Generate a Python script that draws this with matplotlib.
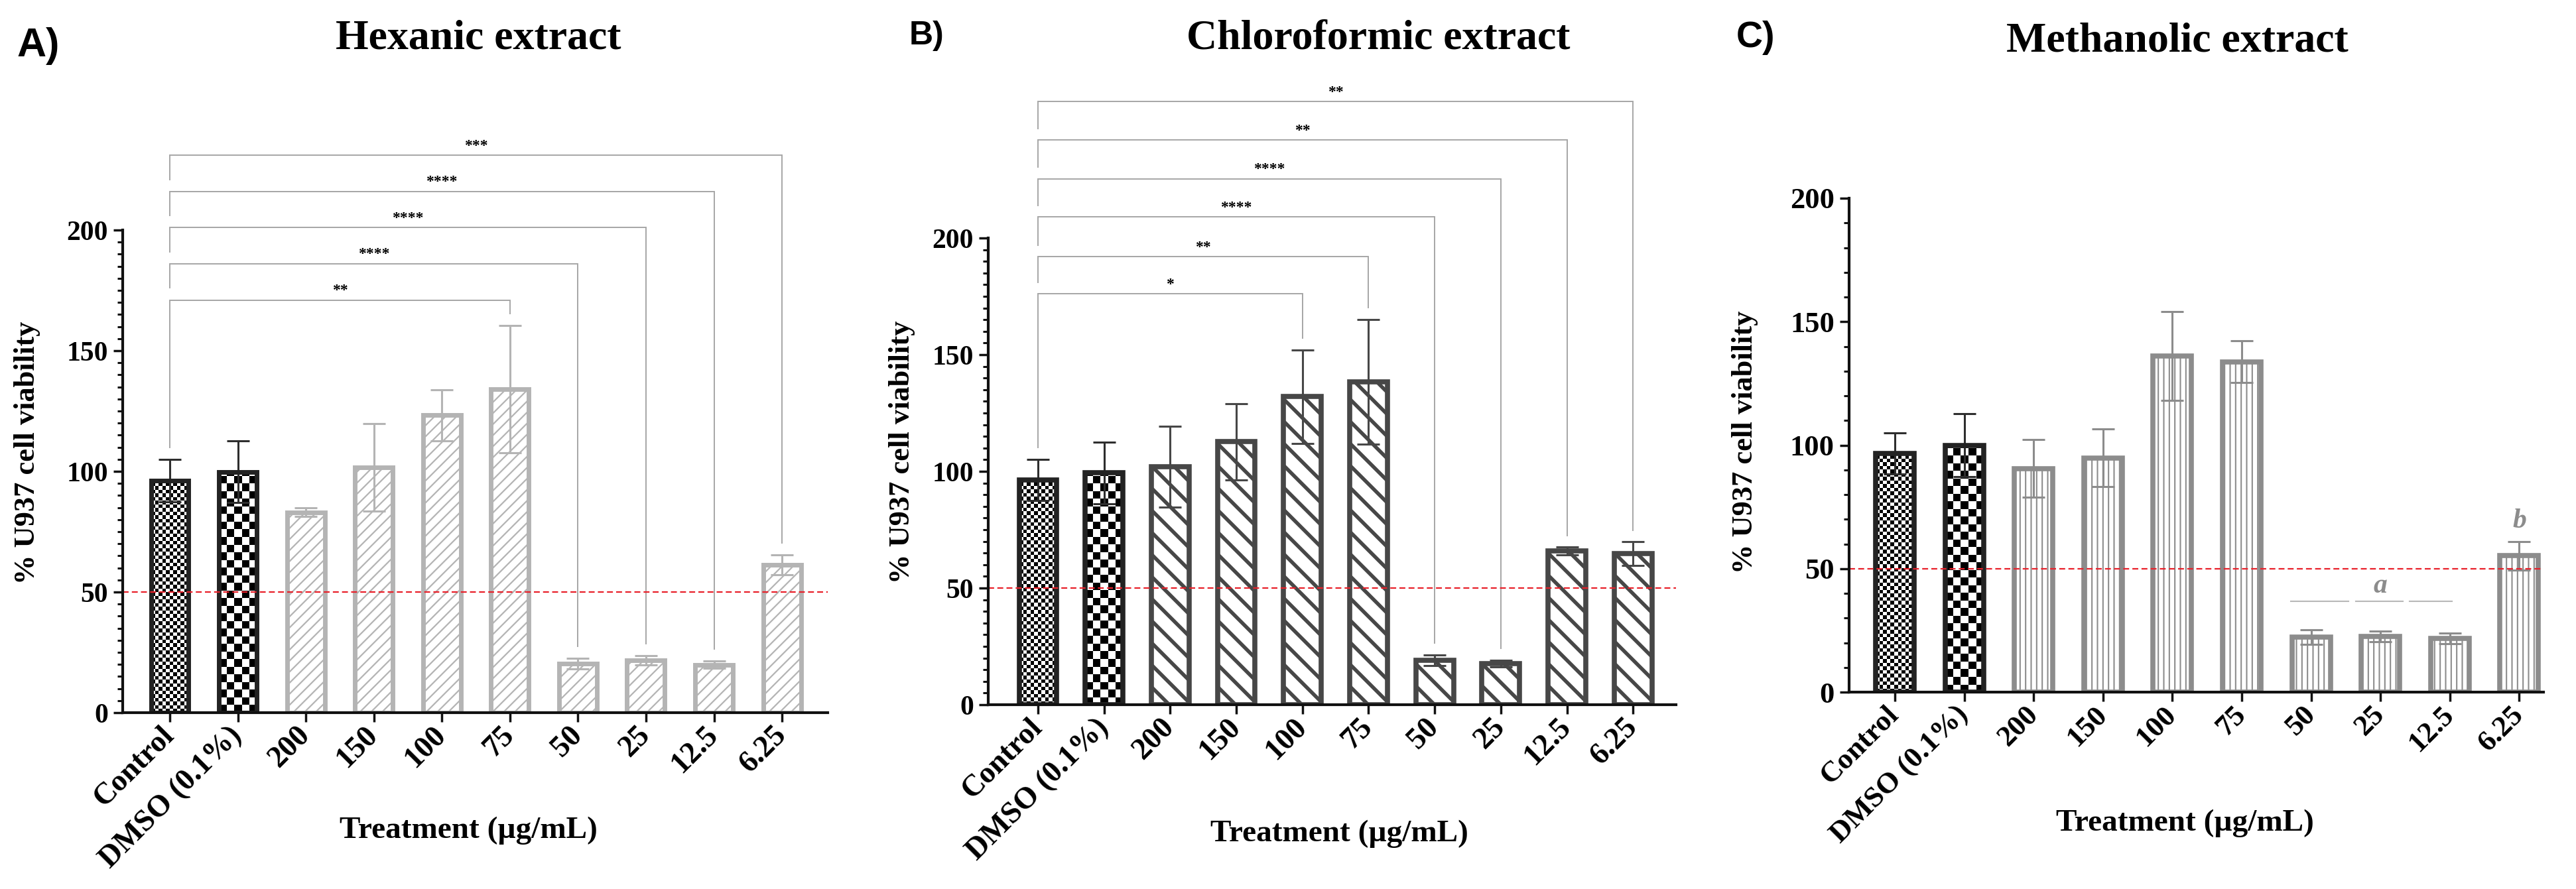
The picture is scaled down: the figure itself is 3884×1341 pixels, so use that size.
import numpy as np
import matplotlib
matplotlib.use("Agg")
import matplotlib.pyplot as plt
from matplotlib.ticker import MultipleLocator

# ---------------- data ----------------
categories = ["Control", "DMSO (0.1%)", "200", "150", "100", "75", "50", "25", "12.5", "6.25"]

hex_mean = [96.2, 99.8, 83.1, 101.6, 123.3, 134.0, 20.3, 21.7, 19.8, 61.3]
hex_err = [8.8, 12.8, 1.8, 18.2, 10.6, 26.4, 2.1, 1.9, 1.5, 4.1]

chl_mean = [96.3, 99.4, 102.0, 112.7, 132.0, 138.4, 19.1, 17.6, 65.8, 64.8]
chl_err = [8.9, 13.2, 17.3, 16.4, 20.0, 26.7, 2.2, 1.5, 1.7, 5.0]

met_mean = [96.6, 100.0, 90.6, 94.8, 136.1, 133.8, 22.3, 22.5, 21.8, 55.2]
met_err = [8.4, 12.7, 11.7, 11.7, 17.9, 8.5, 3.0, 2.1, 2.1, 5.8]

hex_targets = [5, 6, 7, 8, 9]
hex_levels = [171, 186, 201, 216, 231]
hex_stars = ["**", "****", "****", "****", "***"]

chl_targets = [4, 5, 6, 7, 8, 9]
chl_levels = [176, 192, 209, 225.4, 242, 258.4]
chl_stars = ["*", "**", "****", "****", "**", "**"]

met_a_segments = [(5.71, 6.54), (6.64, 7.32), (7.42, 8.03)]
met_a_level = 36.8

titles = ["Hexanic extract", "Chloroformic extract", "Methanolic extract"]
panel_letters = ["A)", "B)", "C)"]
ylabel = "% U937 cell viability"
xlabel = "Treatment (\u00b5g/mL)"

# ---------------- figure ----------------
W, H = 3884, 1341
DPI = 100
fig = plt.figure(figsize=(W / DPI, H / DPI), dpi=DPI)
SERIF = ["Liberation Serif", "DejaVu Serif"]
SANS = ["Liberation Sans", "DejaVu Sans"]


def fx(px):
    return px / W


def fy(py):
    return 1 - py / H


def add_axes_px(left, right, y0, y200):
    return fig.add_axes([fx(left), fy(y0), (right - left) / W, (y0 - y200) / H])


def checker(ax, bar, sq):
    x0l, x1l = ax.get_xlim()
    y0l, y1l = ax.get_ylim()
    ppx = ax.bbox.width / (x1l - x0l)
    ppy = ax.bbox.height / (y1l - y0l)
    bx, bw, bh = bar.get_x(), bar.get_width(), bar.get_height()
    nc = int(np.ceil(bw * ppx / sq)) + 1
    nr = int(np.ceil(bh * ppy / sq)) + 1
    arr = np.add.outer(np.arange(nr), np.arange(nc)) % 2
    ext = [bx, bx + nc * sq / ppx, 0, nr * sq / ppy]
    im = ax.imshow(arr, cmap="gray", vmin=0, vmax=1, extent=ext, origin="lower",
                   interpolation="nearest", aspect="auto", zorder=2)
    im.set_clip_path(bar)
    ax.set_xlim(x0l, x1l)
    ax.set_ylim(y0l, y1l)


def draw_panel(ax, mean, err, xlim, ec, err_col, hatch, hatch_lw, width, edge_lw,
               minor, ytick_fs, xtick_fs):
    ax.set_xlim(*xlim)
    ax.set_ylim(0, 200)
    x = np.arange(len(categories))
    ctrl_ec = "#232323"
    bars = []
    for i in x:
        if i < 2:
            b = ax.bar(i, mean[i], width, facecolor="none", edgecolor=ctrl_ec,
                       linewidth=edge_lw, zorder=3)[0]
        else:
            b = ax.bar(i, mean[i], width, facecolor="none", edgecolor=ec,
                       linewidth=edge_lw, hatch=hatch, zorder=3)[0]
            if hasattr(b, "set_hatch_linewidth"):
                b.set_hatch_linewidth(hatch_lw)
        bars.append(b)
    checker(ax, bars[0], 5.5)
    checker(ax, bars[1], 11.5)
    for i in x:
        col = "#2e2e2e" if i < 2 else err_col
        ax.errorbar(i, mean[i], yerr=err[i], fmt="none", ecolor=col, elinewidth=2.2,
                    capsize=12.5, capthick=2.2, zorder=2.5)
    ax.axhline(50, color="#e8202a", ls=(0, (4, 2.2)), lw=1.6, zorder=6)

    for s in ["top", "right"]:
        ax.spines[s].set_visible(False)
    for s in ["left", "bottom"]:
        ax.spines[s].set_linewidth(3)
        ax.spines[s].set_color("#111111")
        ax.spines[s].set_zorder(7)
    ax.set_yticks([0, 50, 100, 150, 200])
    ax.yaxis.set_minor_locator(MultipleLocator(minor))
    ax.tick_params(axis="y", which="major", length=10, width=2.5, pad=6,
                   labelsize=ytick_fs, color="#111111")
    ax.tick_params(axis="y", which="minor", length=6, width=2.2, color="#111111")
    ax.tick_params(axis="x", which="major", length=10, width=2.5, pad=10,
                   color="#111111")
    ax.set_xticks(x)
    ax.set_xticklabels(categories, rotation=45, ha="right", va="center",
                       rotation_mode="anchor", fontsize=xtick_fs, fontweight="bold",
                       family=SERIF)
    for lab in ax.get_yticklabels():
        lab.set_fontweight("bold")
        lab.set_family(SERIF)
    return bars


def brackets(ax, mean, err, targets, levels, stars):
    col = "#a6a6a6"
    for k, (t, lv, st) in enumerate(zip(targets, levels, stars)):
        low_left = (levels[k - 1] + 5) if k > 0 else (mean[0] + err[0] + 5)
        low_right = mean[t] + err[t] + 5
        ax.plot([0, 0, t, t], [low_left, lv, lv, low_right], color=col, lw=1.4,
                clip_on=False, zorder=4, solid_joinstyle="miter")
        ax.text(t / 2, lv + 1.0, st, ha="center", va="bottom", fontsize=17,
                fontweight="bold", family=SERIF, clip_on=False)


# Panel A
axA = add_axes_px(185, 1248, 1075, 347)
draw_panel(axA, hex_mean, hex_err, (-0.692, 9.672), "#b4b4b4", "#b4b4b4", "//", 1.6,
           0.555, 5.0, 5, 30, 33)
brackets(axA, hex_mean, hex_err, hex_targets, hex_levels, hex_stars)

# Panel B
axB = add_axes_px(1490, 2527, 1063, 359)
draw_panel(axB, chl_mean, chl_err, (-0.752, 9.65), "#474747", "#474747", "\\", 4.0,
           0.57, 5.5, 5, 30, 33)
brackets(axB, chl_mean, chl_err, chl_targets, chl_levels, chl_stars)

# Panel C
axC = add_axes_px(2788, 3835, 1044, 299)
draw_panel(axC, met_mean, met_err, (-0.66, 9.35), "#8c8c8c", "#8c8c8c", "||", 1.5,
           0.555, 5.5, 10, 32, 32)
for a0, a1 in met_a_segments:
    axC.plot([a0, a1], [met_a_level, met_a_level], color="#b8b8b8", lw=1.5, zorder=4)
axC.text(7, 40.2, "a", ha="center", va="baseline", fontsize=30, fontweight="bold",
         style="italic", color="#8c8c8c", family=SERIF)
axC.text(9, 66.7, "b", ha="center", va="baseline", fontsize=30, fontweight="bold",
         style="italic", color="#8c8c8c", family=SERIF)

# ---------------- texts ----------------
title_pos = [(721, 74), (2078, 74), (3283, 77)]
for t, (px, py) in zip(titles, title_pos):
    fig.text(fx(px), fy(py), t, ha="center", va="baseline", fontsize=46,
             fontweight="bold", family=SERIF)

letter_pos = [(25, 85, 44), (1371, 67, 36), (2618, 71, 40)]
for t, (px, py, fs) in zip(panel_letters, letter_pos):
    fig.text(fx(px), fy(py), t, ha="left", va="baseline", fontsize=fs,
             fontweight="bold", family=SANS)

ylab_pos = [(41, 683), (1360, 682), (2631, 667)]
for px, py in ylab_pos:
    fig.text(fx(px), fy(py), ylabel, ha="center", va="center", rotation=90,
             fontsize=32, fontweight="bold", family=SERIF)

xlab_pos = [(706, 1264), (2019, 1269), (3294, 1253)]
for px, py in xlab_pos:
    fig.text(fx(px), fy(py), xlabel, ha="center", va="baseline", fontsize=34,
             fontweight="bold", family=SERIF)

fig.savefig("out.png", dpi=DPI, facecolor="white")
